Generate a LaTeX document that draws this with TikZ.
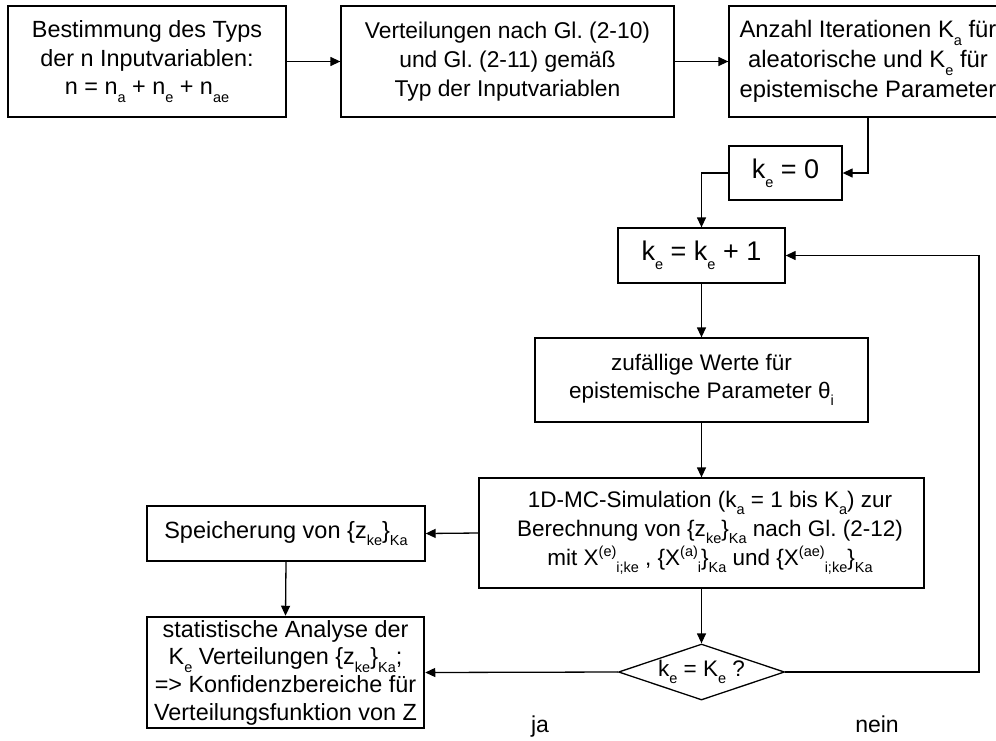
\documentclass[tikz,border=0pt]{standalone}
\usepackage{fontspec}
\setmainfont{Liberation Sans}
\usetikzlibrary{arrows.meta,shapes.geometric}
\newcommand\mysub[1]{\raisebox{-0.32em}{\fontsize{14.5}{14.5}\selectfont #1}}
\newcommand\mysup[1]{\raisebox{0.42em}{\fontsize{14.5}{14.5}\selectfont #1}}
\begin{document}
\frenchspacing
\begin{tikzpicture}[x=1pt,y=-1pt,
  box/.style={draw, line width=1.3pt, inner sep=0pt, align=center,
    font=\fontsize{22.5}{28}\selectfont},
  arr/.style={-{Triangle[length=10pt,width=9pt]}, line width=1.3pt},
  lbl/.style={font=\fontsize{23}{28}\selectfont, inner sep=0pt}]
\useasboundingbox (0,0) rectangle (996,740);
\clip (0,0) rectangle (996,740);

\node[box, minimum width=278pt, minimum height=111pt, font=\fontsize{23.4}{28.5}\selectfont] (b1) at (147,61.5)
  {Bestimmung des Typs\\der n Inputvariablen:\\n = n\mysub{a} + n\mysub{e} + n\mysub{ae}};
\node[box, minimum width=333pt, minimum height=111pt, font=\fontsize{22.8}{29}\selectfont] (b2) at (507.5,61.5)
  {Verteilungen nach Gl. (2-10)\\und Gl. (2-11) gemäß\\Typ der Inputvariablen};
\node[box, minimum width=278pt, minimum height=111pt, font=\fontsize{23.8}{30}\selectfont] (b3) at (868,61.5)
  {Anzahl Iterationen K\mysub{a} für\\aleatorische und K\mysub{e} für\\epistemische Parameter};
\node[box, minimum width=113pt, minimum height=54pt, font=\fontsize{27}{30}\selectfont] (k0) at (785.5,173)
  {k\mysub{e} = 0};
\node[box, minimum width=167pt, minimum height=55pt, font=\fontsize{27}{30}\selectfont] (kinc) at (701.5,255.5)
  {k\mysub{e} = k\mysub{e} + 1};
\node[box, minimum width=333pt, minimum height=84pt, font=\fontsize{22.5}{28}\selectfont] (zuf) at (701.5,380)
  {zufällige Werte für\\epistemische Parameter θ\mysub{i}};
\node[box, minimum width=445pt, minimum height=110pt] (mc) at (701.5,533) {};
\node[inner sep=0pt, align=center, font=\fontsize{22.5}{29}\selectfont] (mct) at (710,533)
  {1D-MC-Simulation (k\mysub{a} = 1 bis K\mysub{a}) zur\\Berechnung von \{z\mysub{ke}\}\mysub{Ka} nach Gl. (2-12)\\mit X\mysup{(e)}\mysub{i;ke} , \{X\mysup{(a)}\mysub{i}\}\mysub{Ka} und \{X\mysup{(ae)}\mysub{i;ke}\}\mysub{Ka}};
\node[box, minimum width=278pt, minimum height=55pt, font=\fontsize{23.5}{28}\selectfont] (sp) at (286,533.5)
  {Speicherung von \{z\mysub{ke}\}\mysub{Ka}};
\node[box, line width=2.5pt, minimum width=277pt, minimum height=111pt, font=\fontsize{23.4}{27.7}\selectfont] (ana) at (285.5,672.5)
  {statistische Analyse der\\K\mysub{e} Verteilungen \{z\mysub{ke}\}\mysub{Ka};\\=> Konfidenzbereiche für\\Verteilungsfunktion von Z};
\node[box, shape=diamond, aspect=3, minimum width=166pt, minimum height=56pt] (dia) at (701.5,672)
  {k\mysub{e} = K\mysub{e} ?};
\node[lbl, anchor=base] (ja) at (540,732) {ja};
\node[lbl, anchor=base] (nein) at (877,732) {nein};
\coordinate (r) at (979,672);

\draw[arr] (b1.east) -- (b2.west);
\draw[arr] (b2.east) -- (b3.west);
\draw[arr] (b3.south) |- (k0.east);
\draw[arr] (k0.west) -| (kinc.north);
\draw[arr] (kinc.south) -- (zuf.north);
\draw[arr] (zuf.south) -- (mc.north);
\draw[arr] (mc.south) -- (dia.north);
\draw[arr] (mc.west) -- (sp.east);
\draw[arr] (sp.south) -- (ana.north);
\draw[arr] (dia.west) -- (ana.east);
\draw[arr] (dia.east) -- (r) |- (kinc.east);
\end{tikzpicture}
\end{document}
